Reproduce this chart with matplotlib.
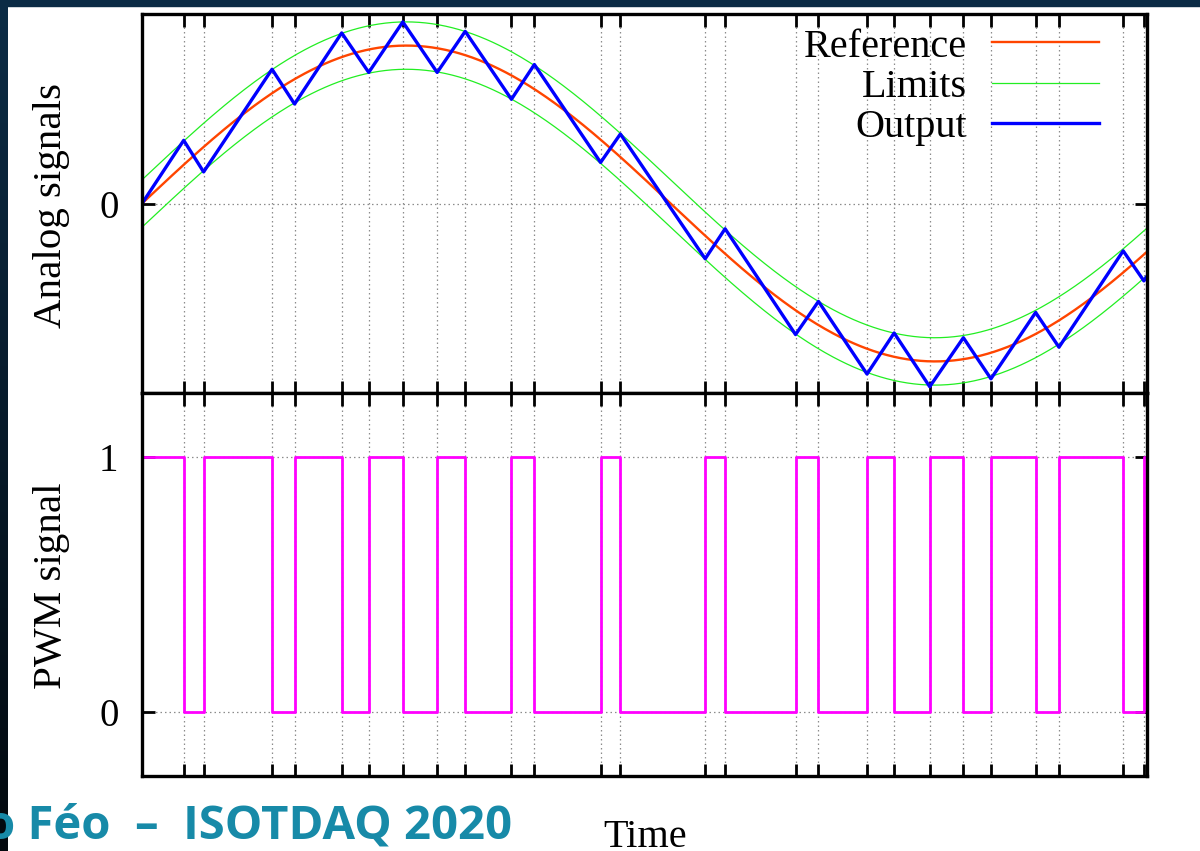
import numpy as np
import matplotlib
matplotlib.use('Agg')
from matplotlib import pyplot as plt
from matplotlib.colors import LinearSegmentedColormap

plt.rcParams['font.family'] = ['Liberation Serif', 'DejaVu Serif']

# switching instants (time axis runs 0..1)
switch_t = [0.0415, 0.0613, 0.1294, 0.1518, 0.1987, 0.2256, 0.2595, 0.2937,
            0.3216, 0.3676, 0.3904, 0.4563, 0.4760, 0.5604, 0.5802, 0.6503,
            0.6731, 0.7214, 0.7484, 0.7838, 0.8173, 0.8447, 0.8892, 0.9124,
            0.9763, 0.9969]
t_end = 1.0

# output (triangle) values at 0, each switch, and the end
output_v = [0.0, 0.40, 0.20, 0.85, 0.63, 1.08, 0.83, 1.15, 0.83, 1.09, 0.66,
            0.88, 0.26, 0.44, -0.35, -0.16, -0.83, -0.62, -1.08, -0.82, -1.16,
            -0.85, -1.11, -0.69, -0.91, -0.30, -0.49, -0.46]

# PWM level on each segment between switches
pwm_levels = [1, 0, 1, 0, 1, 0, 1, 0, 1, 0, 1, 0, 1, 0, 1, 0, 1, 0, 1, 0,
              1, 0, 1, 0, 1, 0, 1]

# reference sine
ref_amp = 1.0
ref_period = 1.052
band = 0.15

t = np.linspace(0, t_end, 600)
ref = ref_amp * np.sin(2 * np.pi * t / ref_period)

W, H = 1200, 851
fig = plt.figure(figsize=(W / 100, H / 100), dpi=100, facecolor='white')

# slide background bands
cmap = LinearSegmentedColormap.from_list('bg', ['#0c2c46', '#03090e'])
bg = fig.add_axes([0, 0, 8 / W, 1])
bg.imshow(np.linspace(0, 1, 256).reshape(-1, 1), aspect='auto', cmap=cmap)
bg.axis('off')
fig.patches.append(plt.Rectangle((0, 1 - 6 / H), 1, 6 / H, transform=fig.transFigure,
                                 color='#0b2b45', zorder=0))

left, right = 142 / W, 1147 / W
ax1 = fig.add_axes([left, 1 - 393 / H, right - left, (393 - 14) / H])
ax2 = fig.add_axes([left, 1 - 776 / H, right - left, (776 - 393) / H])

out_t = [0.0] + switch_t + [t_end]
ax1.plot(t, ref, color='#ff4500', lw=1.7, label='Reference')
ax1.plot(t, ref + band, color='#22ee22', lw=0.9, label='Limits')
ax1.plot(t, ref - band, color='#22ee22', lw=0.9)
ax1.plot(out_t, output_v, color='#0000ff', lw=2.4, label='Output')
ax1.set_ylim(-1.2, 1.2)
ax1.set_yticks([0])

ax2.step(out_t, pwm_levels + [pwm_levels[-1]], where='post', color='#ff00ff', lw=2.0)
ax2.set_ylim(-0.25, 1.25)
ax2.set_yticks([0, 1])

for ax in (ax1, ax2):
    ax.set_xlim(0, t_end)
    ax.set_xticks(switch_t)
    ax.set_xticklabels([])
    ax.tick_params(direction='in', length=9, width=2, top=True, right=True,
                   labelsize=28, pad=17)
    ax.grid(True, color='#8c8c8c', linestyle=(0, (1.2, 2.4)), linewidth=0.9)
    for s in ax.spines.values():
        s.set_linewidth(2.4)

ax1.legend(loc='upper right', bbox_to_anchor=(0.952, 0.962), frameon=False,
           markerfirst=False, fontsize=29, handlelength=2.65, handletextpad=0.62,
           labelspacing=0.08, borderpad=0, borderaxespad=0)

fig.text(52 / W, 1 - 205 / H, 'Analog signals', rotation=90, ha='center', va='center', fontsize=29.5)
fig.text(52 / W, 1 - 586 / H, 'PWM signal', rotation=90, ha='center', va='center', fontsize=29.5)
fig.text(645 / W, 1 - 847 / H, 'Time', ha='center', va='baseline', fontsize=29)

fig.text(-14 / W, 1 - 839 / H, 'o Féo  \u2013  ISOTDAQ 2020', family=['Open Sans', 'DejaVu Sans'],
         fontweight='bold', fontsize=34, color='#178aa8', va='baseline', ha='left')

fig.savefig('out.png', dpi=100, facecolor='white')
